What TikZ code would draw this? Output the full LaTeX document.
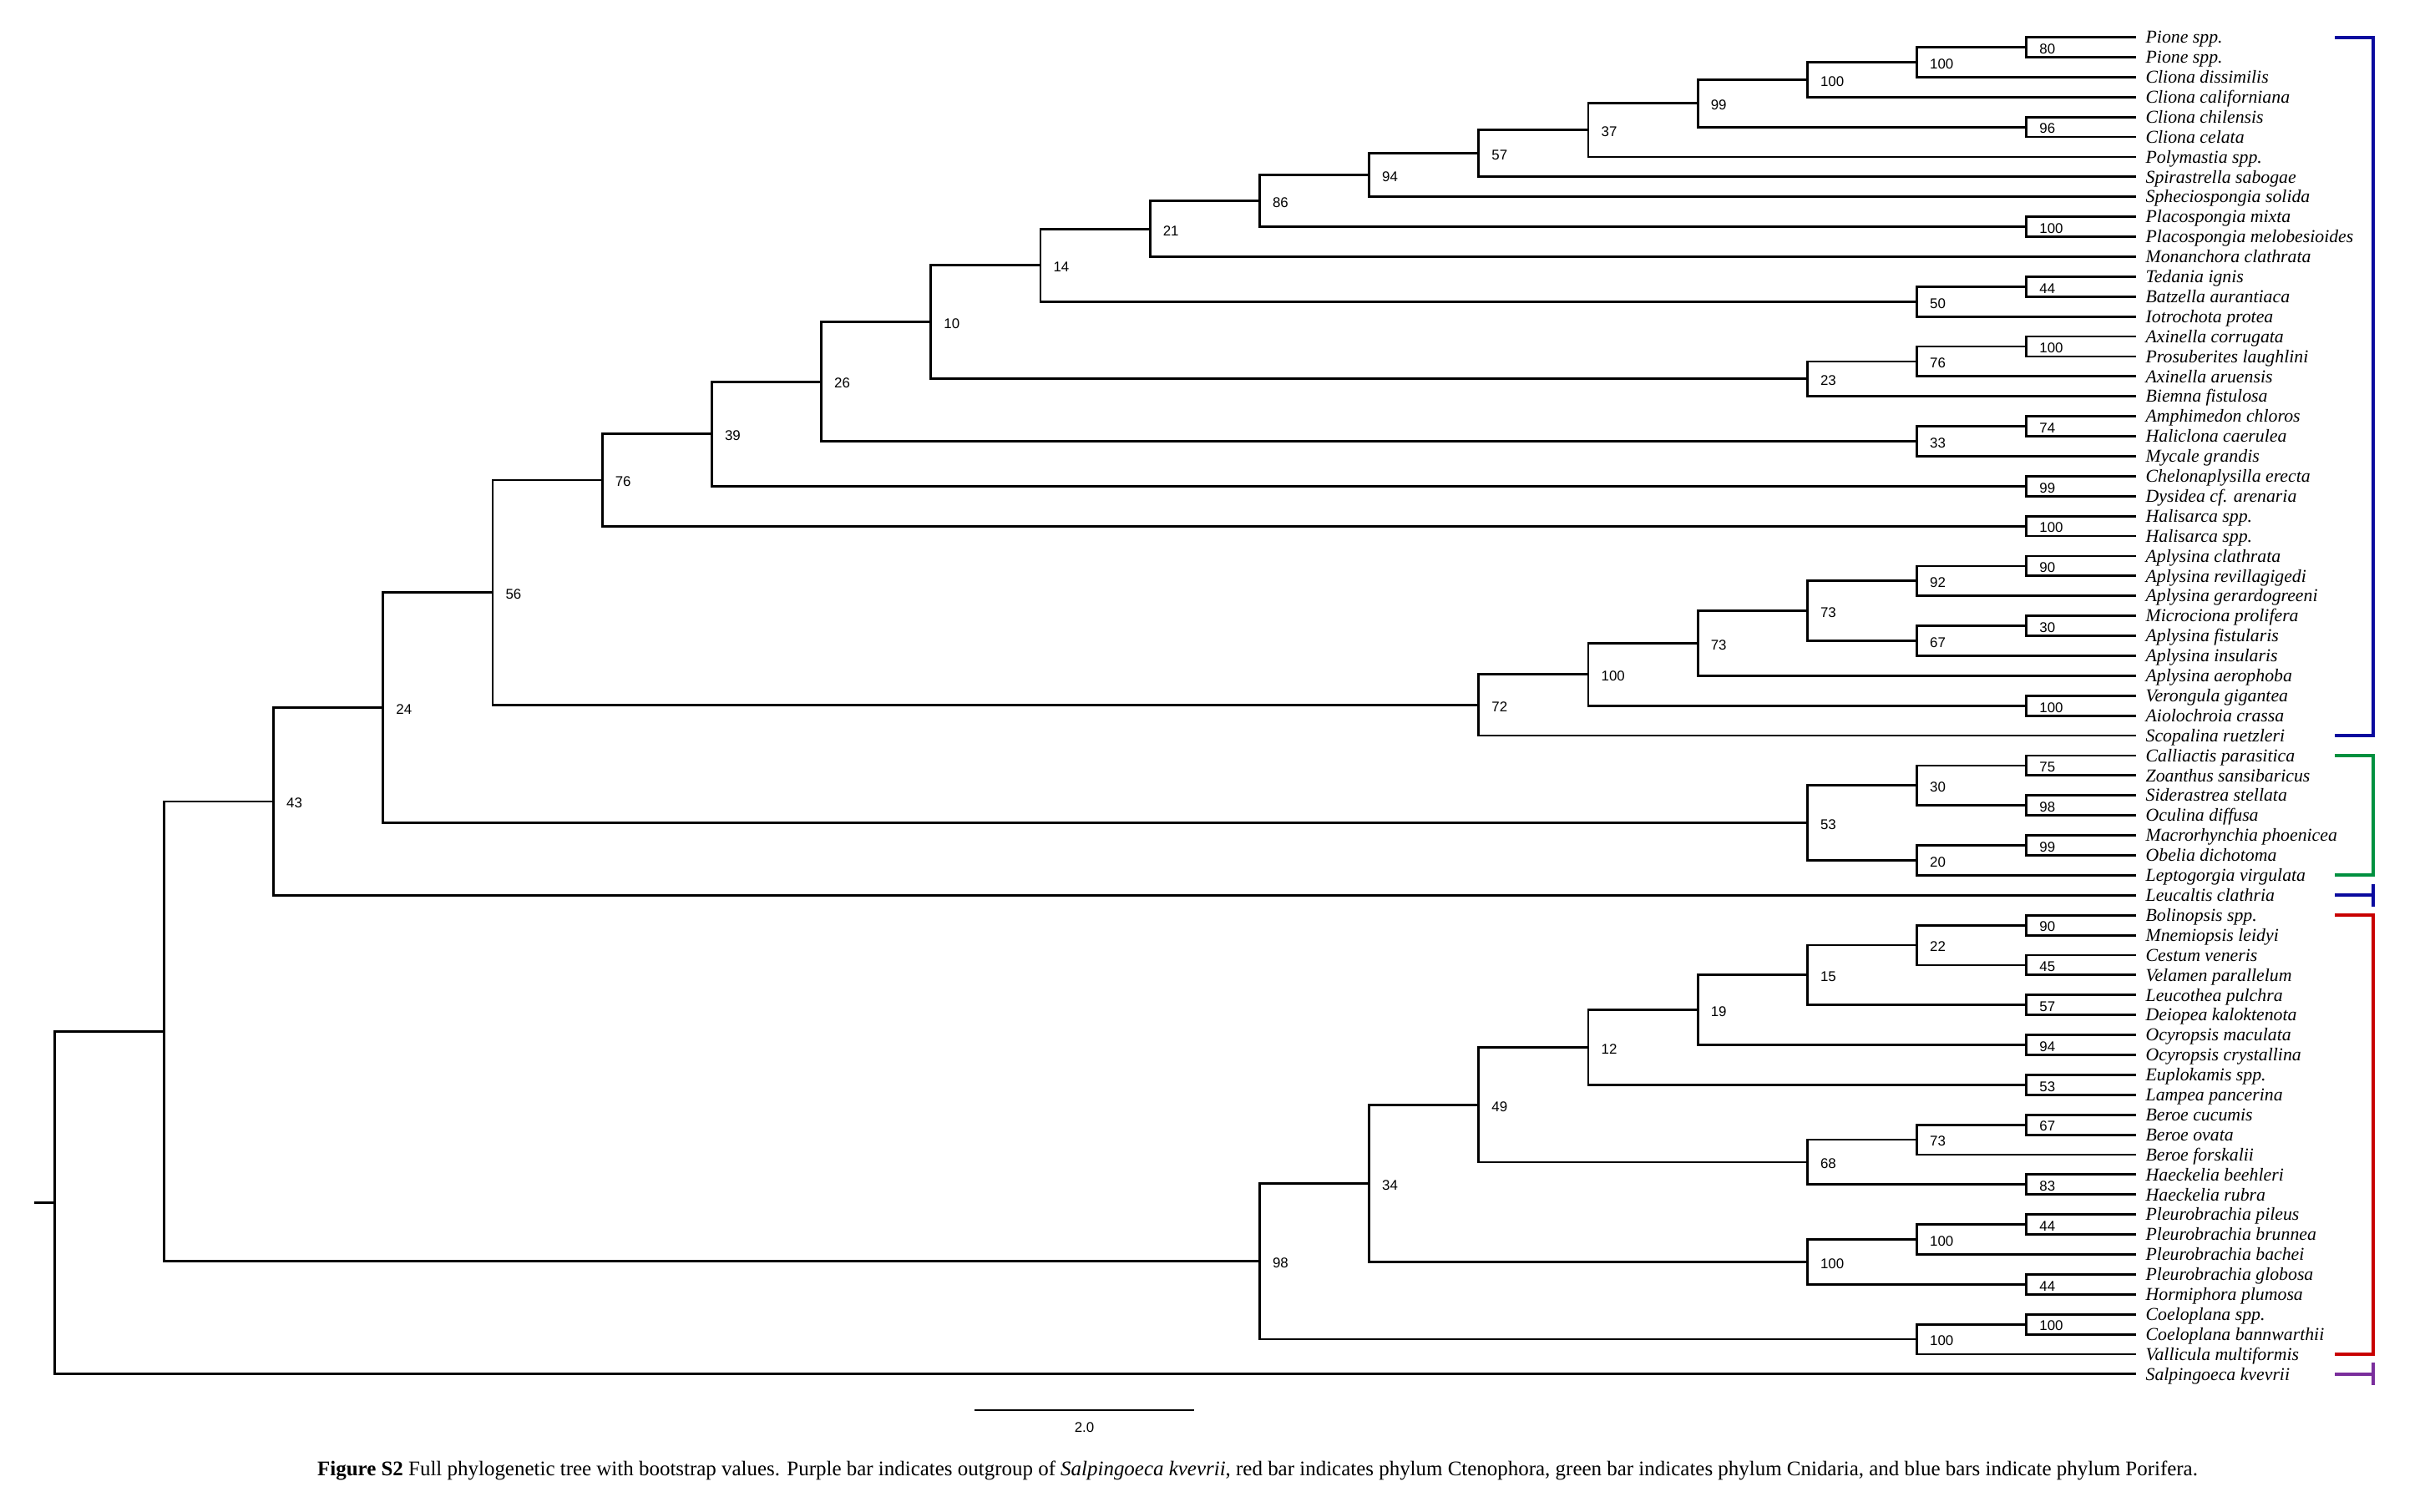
\documentclass[tikz,border=0pt]{standalone}
\usepackage{fontspec}
\setmainfont{Liberation Serif}
\newfontfamily\bsfont{Liberation Sans}
\usepackage{tikz}
\usetikzlibrary{positioning}
\definecolor{PoriferaBlue}{HTML}{0A0A9E}
\definecolor{CnidariaGreen}{HTML}{00903F}
\definecolor{CtenoRed}{HTML}{C80000}
\definecolor{OutPurple}{HTML}{7A2E9C}
\tikzset{
  br/.style={line width=0.8pt},
  leaf/.style={anchor=west,inner xsep=0.11cm,inner ysep=0pt,
               text height=4.1pt,text depth=0pt,
               font=\fontsize{6.2}{6.8}\selectfont\itshape},
  bs/.style={font=\bsfont\fontsize{4.8}{5.5}\selectfont,inner sep=0pt},
  lab/.style={bs,xshift=0.15cm,yshift=-0.02cm},
  grp/.style={line width=1.15pt}
}

\begin{document}
\begin{tikzpicture}
  \useasboundingbox (0,0) rectangle (29.16,-18.11);
  \coordinate (bx1) at (27.96,0);
  \coordinate (bx2) at (28.42,0);

  \begin{scope}[shift={(0.651,-0.207)},x=1.312cm,y=-0.239cm]
    % leaves
    \foreach \taxon [count=\i] in {Pione spp.,
      Pione spp.,
      Cliona dissimilis,
      Cliona californiana,
      Cliona chilensis,
      Cliona celata,
      Polymastia spp.,
      Spirastrella sabogae,
      Spheciospongia solida,
      Placospongia mixta,
      Placospongia melobesioides,
      Monanchora clathrata,
      Tedania ignis,
      Batzella aurantiaca,
      Iotrochota protea,
      Axinella corrugata,
      Prosuberites laughlini,
      Axinella aruensis,
      Biemna fistulosa,
      Amphimedon chloros,
      Haliclona caerulea,
      Mycale grandis,
      Chelonaplysilla erecta,
      Dysidea cf. arenaria,
      Halisarca spp.,
      Halisarca spp.,
      Aplysina clathrata,
      Aplysina revillagigedi,
      Aplysina gerardogreeni,
      Microciona prolifera,
      Aplysina fistularis,
      Aplysina insularis,
      Aplysina aerophoba,
      Verongula gigantea,
      Aiolochroia crassa,
      Scopalina ruetzleri,
      Calliactis parasitica,
      Zoanthus sansibaricus,
      Siderastrea stellata,
      Oculina diffusa,
      Macrorhynchia phoenicea,
      Obelia dichotoma,
      Leptogorgia virgulata,
      Leucaltis clathria,
      Bolinopsis spp.,
      Mnemiopsis leidyi,
      Cestum veneris,
      Velamen parallelum,
      Leucothea pulchra,
      Deiopea kaloktenota,
      Ocyropsis maculata,
      Ocyropsis crystallina,
      Euplokamis spp.,
      Lampea pancerina,
      Beroe cucumis,
      Beroe ovata,
      Beroe forskalii,
      Haeckelia beehleri,
      Haeckelia rubra,
      Pleurobrachia pileus,
      Pleurobrachia brunnea,
      Pleurobrachia bachei,
      Pleurobrachia globosa,
      Hormiphora plumosa,
      Coeloplana spp.,
      Coeloplana bannwarthii,
      Vallicula multiformis,
      Salpingoeca kvevrii}
      \node[leaf] (l\i) at (19,\i) {\taxon};

    % internal nodes with bootstrap values
    \foreach \nd/\dep/\yy/\bv in {n1/18/1.5/80, n2/17/2.25/100, n3/16/3.125/100,
      n4/18/5.5/96, n5/15/4.3125/99, n6/14/5.65625/37, n7/13/6.828/57,
      n8/12/7.914/94, n9/18/10.5/100, n10/11/9.207/86, n11/10/10.604/21,
      n12/18/13.5/44, n13/17/14.25/50, n14/9/12.427/14, n15/18/16.5/100,
      n16/17/17.25/76, n17/16/18.125/23, n18/8/15.276/10, n19/18/20.5/74,
      n20/17/21.25/33, n21/7/18.263/26, n22/18/23.5/99, n23/6/20.881/39,
      n24/18/25.5/100, n25/5/23.191/76, n26/18/27.5/90, n27/17/28.25/92,
      n28/18/30.5/30, n29/17/31.25/67, n30/16/29.75/73, n31/15/31.375/73,
      n32/18/34.5/100, n33/14/32.9375/100, n34/13/34.469/72, n35/4/28.830/56,
      n36/18/37.5/75, n37/18/39.5/98, n38/17/38.5/30, n39/18/41.5/99,
      n40/17/42.25/20, n41/16/40.375/53, n42/3/34.602/24, n43/2/39.301/43,
      n44/18/45.5/90, n45/18/47.5/45, n46/17/46.5/22, n47/18/49.5/57,
      n48/16/48/15, n49/18/51.5/94, n50/15/49.75/19, n51/18/53.5/53,
      n52/14/51.625/12, n53/18/55.5/67, n54/17/56.25/73, n55/18/58.5/83,
      n56/16/57.375/68, n57/13/54.5/49, n58/18/60.5/44, n59/17/61.25/100,
      n60/18/63.5/44, n61/16/62.375/100, n62/12/58.4375/34, n63/18/65.5/100,
      n64/17/66.25/100, n65/11/62.344/98}
      \coordinate[label={[lab]right:\bv}] (\nd) at (\dep,\yy);
    \coordinate (n66) at (1,50.822);
    \coordinate (n67) at (0,59.411);
    \coordinate (stub) at (-0.186,59.411);

    % branches
    \foreach \pa/\ch in {n2/n1, n3/n2, n5/n3, n5/n4, n6/n5, n7/n6, n8/n7,
      n10/n8, n10/n9, n11/n10, n13/n12, n14/n11, n14/n13, n16/n15, n17/n16,
      n18/n14, n18/n17, n20/n19, n21/n18, n21/n20, n23/n21, n23/n22, n25/n23,
      n25/n24, n27/n26, n29/n28, n30/n27, n30/n29, n31/n30, n33/n31, n33/n32,
      n34/n33, n35/n25, n35/n34, n38/n36, n38/n37, n40/n39, n41/n38, n41/n40,
      n42/n35, n42/n41, n43/n42, n46/n44, n46/n45, n48/n46, n48/n47, n50/n48,
      n50/n49, n52/n50, n52/n51, n54/n53, n56/n54, n56/n55, n57/n52, n57/n56,
      n59/n58, n61/n59, n61/n60, n62/n57, n62/n61, n64/n63, n65/n62, n65/n64,
      n66/n43, n66/n65, n67/n66}
      \draw[br] (\pa) |- (\ch);
    \foreach \pa/\ch in {n1/1, n1/2, n2/3, n3/4, n4/5, n4/6, n6/7, n7/8, n8/9,
      n9/10, n9/11, n11/12, n12/13, n12/14, n13/15, n15/16, n15/17, n16/18,
      n17/19, n19/20, n19/21, n20/22, n22/23, n22/24, n24/25, n24/26, n26/27,
      n26/28, n27/29, n28/30, n28/31, n29/32, n31/33, n32/34, n32/35, n34/36,
      n36/37, n36/38, n37/39, n37/40, n39/41, n39/42, n40/43, n43/44, n44/45,
      n44/46, n45/47, n45/48, n47/49, n47/50, n49/51, n49/52, n51/53, n51/54,
      n53/55, n53/56, n54/57, n55/58, n55/59, n58/60, n58/61, n59/62, n60/63,
      n60/64, n63/65, n63/66, n64/67, n67/68}
      \draw[br] (\pa) |- (l\ch.west);
    \draw[br] (stub) -- (n67);
  \end{scope}

  % phylum bars
  \draw[grp,PoriferaBlue] (l1.west -| bx1) -- (l1.west -| bx2) -- (l36.west -| bx2) -- (l36.west -| bx1);
  \draw[grp,CnidariaGreen] (l37.west -| bx1) -- (l37.west -| bx2) -- (l43.west -| bx2) -- (l43.west -| bx1);
  \draw[grp,PoriferaBlue] (l44.west -| bx1) -- (l44.west -| bx2) coordinate (t44);
  \draw[grp,PoriferaBlue] ([yshift=0.135cm]t44) -- ([yshift=-0.135cm]t44);
  \draw[grp,CtenoRed] (l45.west -| bx1) -- (l45.west -| bx2) -- (l67.west -| bx2) -- (l67.west -| bx1);
  \draw[grp,OutPurple] (l68.west -| bx1) -- (l68.west -| bx2) coordinate (t68);
  \draw[grp,OutPurple] ([yshift=0.135cm]t68) -- ([yshift=-0.135cm]t68);

  % scale bar
  \coordinate (sb1) at (11.67,-16.89);
  \coordinate (sb2) at (14.30,-16.89);
  \draw[line width=0.6pt] (sb1) -- (sb2) coordinate[midway] (sbm);
  \node[bs,below=0.14cm of sbm] (sblab) {2.0};

  \node[font=\fontsize{7.1}{8}\selectfont,inner sep=0pt] (cap) at (15.06,-17.61)
    {\textbf{Figure S2} Full phylogenetic tree with bootstrap values. Purple bar indicates outgroup of \textit{Salpingoeca kvevrii}, red bar indicates phylum Ctenophora, green bar indicates phylum Cnidaria, and blue bars indicate phylum Porifera.};
\end{tikzpicture}
\end{document}
